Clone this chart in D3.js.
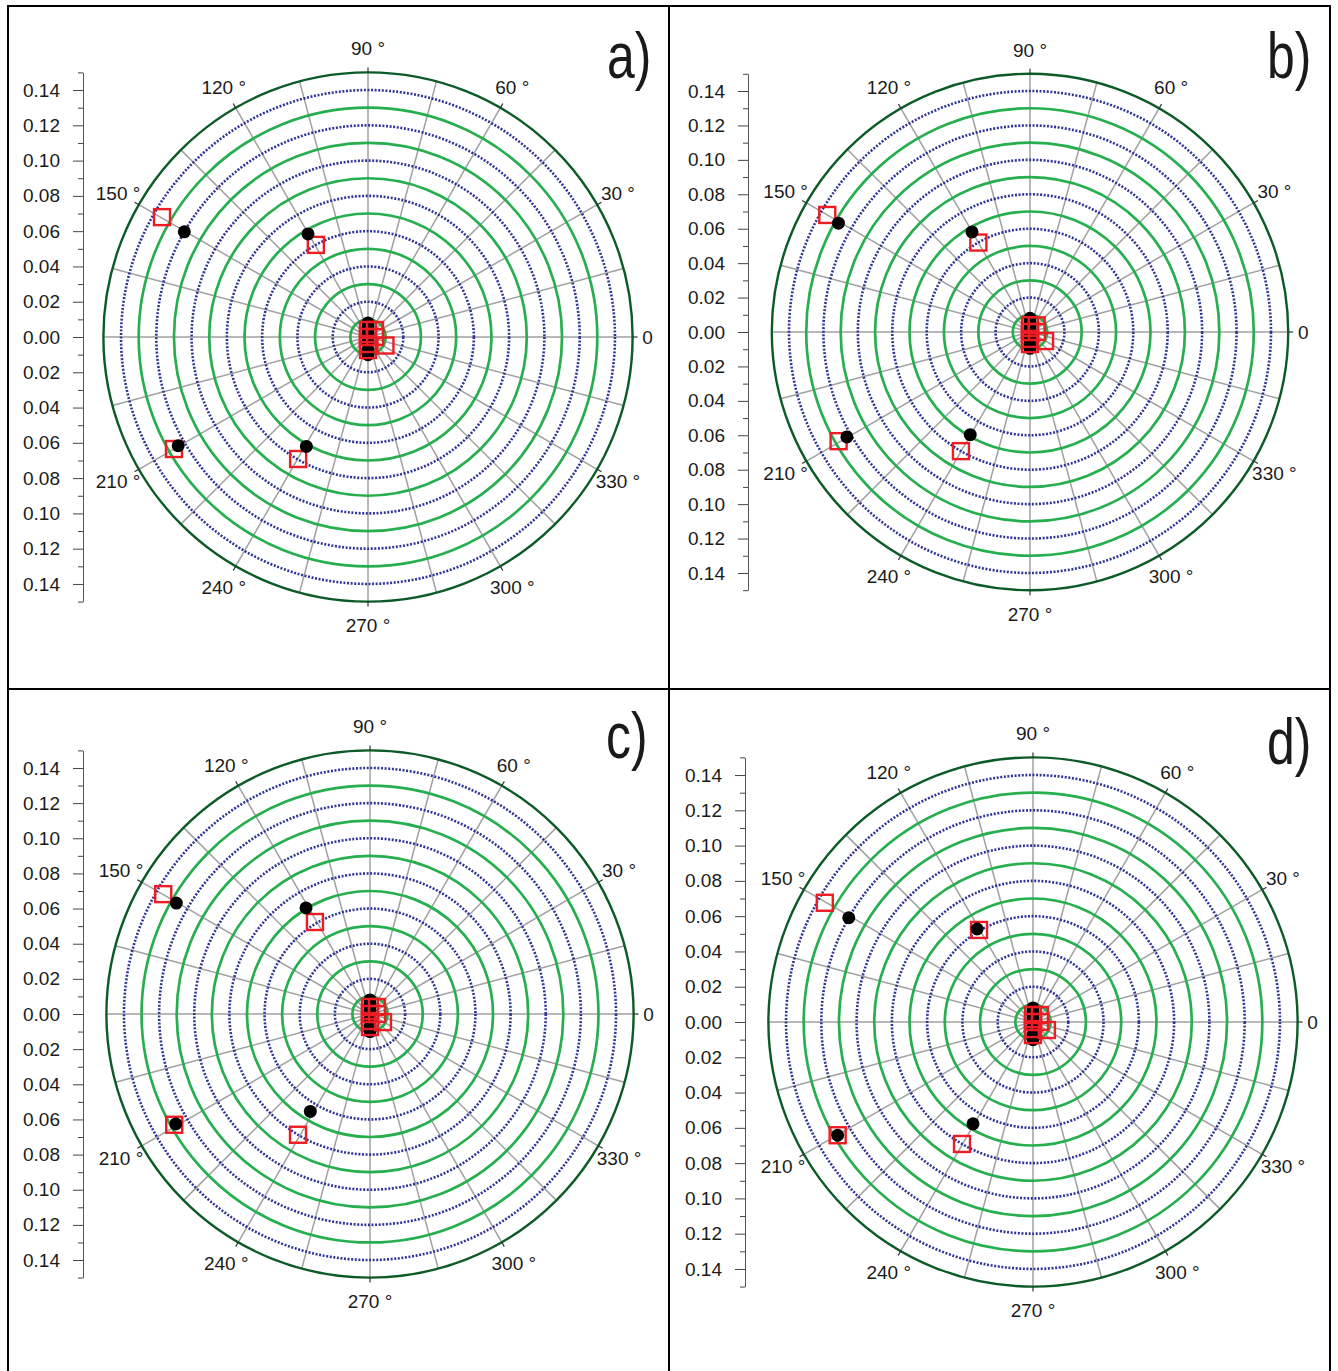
<!DOCTYPE html>
<html>
<head>
<meta charset="utf-8">
<script src="https://cdn.jsdelivr.net/npm/d3@7"></script>
<style>
  body { margin: 0; background: #fff; }
  text { font-family: "Liberation Sans", Arial, sans-serif; fill: #1a1a1a; }
</style>
</head>
<body>
<script>
// radial grid values
var rMax = 0.15;
var ringsGreen = [0.01, 0.03, 0.05, 0.07, 0.09, 0.11, 0.13];
var ringsBlue = [0.02, 0.04, 0.06, 0.08, 0.10, 0.12, 0.14];
var spokeAngles = [0, 15, 30, 45, 60, 75, 90, 105, 120, 135, 150, 165,
                   180, 195, 210, 225, 240, 255, 270, 285, 300, 315, 330, 345];
var labelAngles = [0, 30, 60, 90, 120, 150, 210, 240, 270, 300, 330];
var majorTicks = [-0.14, -0.12, -0.10, -0.08, -0.06, -0.04, -0.02, 0, 0.02, 0.04, 0.06, 0.08, 0.10, 0.12, 0.14];
var minorTicks = [-0.15, -0.13, -0.11, -0.09, -0.07, -0.05, -0.03, -0.01, 0.01, 0.03, 0.05, 0.07, 0.09, 0.11, 0.13, 0.15];

// points as [angle in degrees, radius]
var blackA = [[150.2, 0.120], [120.2, 0.0676], [209.8, 0.124], [240.6, 0.0712],
              [90, 0.008], [90, 0.005], [90, 0.0023], [270, 0.003], [270, 0.0074], [270, 0.010]];
var redA = [[149.8, 0.1351], [119.5, 0.060], [210, 0.127], [240.2, 0.0797],
            [90, 0.004], [0, 0], [270, 0.004], [270, 0.0074], [45, 0.0056], [0, 0.004], [334, 0.011]];

var blackB = [[150.4, 0.128], [120.1, 0.0672], [209.8, 0.1226], [239.8, 0.069],
              [90, 0.008], [90, 0.005], [90, 0.0023], [270, 0.003], [270, 0.0072], [270, 0.0095]];
var redB = [[150, 0.136], [120, 0.060], [209.7, 0.128], [239.9, 0.080],
            [90, 0.004], [0, 0], [270, 0.004], [270, 0.007], [45, 0.0055], [0, 0.004], [329, 0.0102]];

var blackC = [[150.2, 0.127], [121.1, 0.0705], [209.5, 0.127], [238.5, 0.065],
              [90, 0.008], [90, 0.005], [90, 0.0023], [270, 0.003], [270, 0.0074], [270, 0.010]];
var redC = [[149.9, 0.136], [120.9, 0.061], [209.5, 0.128], [239.2, 0.080],
            [90, 0.004], [0, 0], [270, 0.004], [270, 0.0074], [45, 0.0056], [0, 0.004], [328, 0.0087]];

var blackD = [[150.5, 0.120], [121, 0.0615], [210.1, 0.128], [239.5, 0.067],
              [90, 0.008], [90, 0.005], [90, 0.0023], [270, 0.003], [270, 0.0074], [270, 0.010]];
var redD = [[150.2, 0.136], [120.4, 0.0605], [210.1, 0.128], [239.8, 0.080],
            [90, 0.004], [0, 0], [270, 0.004], [270, 0.0074], [45, 0.0056], [0, 0.004], [330, 0.0091]];

var panelNames = ["a)", "b)", "c)", "d)"];

var svg = d3.select("body").append("svg")
    .attr("width", 1338)
    .attr("height", 1371);

// table borders
var borders = svg.append("g")
    .attr("stroke", "#000")
    .attr("stroke-width", 2);
borders.append("rect").attr("x", 8).attr("y", 6).attr("width", 1322).attr("height", 1370).attr("fill", "none");
borders.append("line").attr("x1", 669).attr("x2", 669).attr("y1", 6).attr("y2", 1371);
borders.append("line").attr("x1", 8).attr("x2", 1330).attr("y1", 689).attr("y2", 689);

var panels = [
    {cx: 368, cy: 337, R: 264.6, axisX: 83, lx: 607, ly: 78, black: blackA, red: redA},
    {cx: 1030, cy: 332, R: 258.2, axisX: 748, lx: 1267, ly: 78, black: blackB, red: redB},
    {cx: 370, cy: 1014, R: 263.6, axisX: 83, lx: 606, ly: 758, black: blackC, red: redC},
    {cx: 1033, cy: 1022, R: 264.6, axisX: 745, lx: 1267, ly: 764, black: blackD, red: redD}
];

panels.forEach(function(p, i) {
    var r = d3.scaleLinear().domain([0, rMax]).range([0, p.R]);
    function px(a, v) { return r(v) * Math.cos(a * Math.PI / 180); }
    function py(a, v) { return -r(v) * Math.sin(a * Math.PI / 180); }

    var g = svg.append("g")
        .attr("transform", "translate(" + p.cx + "," + p.cy + ")");

    // spokes
    g.selectAll(".spoke")
        .data(spokeAngles)
        .enter().append("line")
        .attr("x1", 0).attr("y1", 0)
        .attr("x2", function(d) { return px(d, rMax); })
        .attr("y2", function(d) { return py(d, rMax); })
        .attr("stroke", "#a0a0a0")
        .attr("stroke-width", 1.5);

    // dotted rings
    g.selectAll(".ringB")
        .data(ringsBlue)
        .enter().append("circle")
        .attr("r", function(d) { return r(d); })
        .attr("fill", "none")
        .attr("stroke", "#2f3596")
        .attr("stroke-width", 2.6)
        .attr("stroke-dasharray", "2,1.6");

    // solid green rings
    g.selectAll(".ringG")
        .data(ringsGreen)
        .enter().append("circle")
        .attr("r", function(d) { return r(d); })
        .attr("fill", "none")
        .attr("stroke", "#27ae4f")
        .attr("stroke-width", 2.7);

    // outer circle
    g.append("circle")
        .attr("r", r(rMax))
        .attr("fill", "none")
        .attr("stroke", "#0c5a26")
        .attr("stroke-width", 2.4);

    // outer ticks
    g.selectAll(".otick")
        .data(labelAngles)
        .enter().append("line")
        .attr("x1", function(d) { return px(d, rMax); })
        .attr("y1", function(d) { return py(d, rMax); })
        .attr("x2", function(d) { return px(d, rMax) * (p.R + 5) / p.R; })
        .attr("y2", function(d) { return py(d, rMax) * (p.R + 5) / p.R; })
        .attr("stroke", "#333")
        .attr("stroke-width", 1.2);

    // angle labels
    g.selectAll(".alabel")
        .data(labelAngles)
        .enter().append("text")
        .attr("x", function(d) { var k = d === 0 ? 15 : 24; return px(d, rMax) * (p.R + k) / p.R; })
        .attr("y", function(d) { var k = d === 0 ? 15 : 24; return py(d, rMax) * (p.R + k) / p.R; })
        .attr("dy", "0.36em")
        .attr("text-anchor", "middle")
        .attr("font-size", 19)
        .text(function(d) { return d === 0 ? "0" : d + " \u00b0"; });

    // red squares far from centre (under dots)
    var side = 16;
    function drawRed(list) {
        g.selectAll(null)
            .data(list)
            .enter().append("rect")
            .attr("x", function(d) { return px(d[0], d[1]) - side / 2; })
            .attr("y", function(d) { return py(d[0], d[1]) - side / 2; })
            .attr("width", side)
            .attr("height", side)
            .attr("fill", "none")
            .attr("stroke", "#ec1c24")
            .attr("stroke-width", 2.4);
    }
    drawRed(p.red.filter(function(d) { return d[1] > 0.03; }));

    g.selectAll(".dot")
        .data(p.black)
        .enter().append("circle")
        .attr("cx", function(d) { return px(d[0], d[1]); })
        .attr("cy", function(d) { return py(d[0], d[1]); })
        .attr("r", 6.5)
        .attr("fill", "#000");

    drawRed(p.red.filter(function(d) { return d[1] <= 0.03; }));

    // left radial axis
    var y = d3.scaleLinear().domain([-rMax, rMax]).range([p.R, -p.R]);
    var ax = svg.append("g")
        .attr("transform", "translate(" + p.axisX + "," + p.cy + ")");
    ax.append("g")
        .call(d3.axisLeft(y).tickValues(minorTicks).tickSize(5).tickSizeOuter(0).tickFormat(""))
        .call(function(s) { s.selectAll("line").attr("stroke", "#444"); s.select(".domain").attr("stroke", "#555"); });
    ax.append("g")
        .call(d3.axisLeft(y).tickValues(majorTicks).tickSize(10).tickSizeOuter(0).tickPadding(13)
            .tickFormat(function(d) { return Math.abs(d).toFixed(2); }))
        .call(function(s) {
            s.select(".domain").remove();
            s.selectAll("line").attr("stroke", "#444");
            s.selectAll("text").attr("font-size", 19).attr("fill", "#1a1a1a");
        });

    // panel letter
    svg.append("text")
        .attr("transform", "translate(" + p.lx + "," + p.ly + ") scale(0.78,1)")
        .attr("font-size", 64)
        .text(panelNames[i]);
});
</script>
</body>
</html>
